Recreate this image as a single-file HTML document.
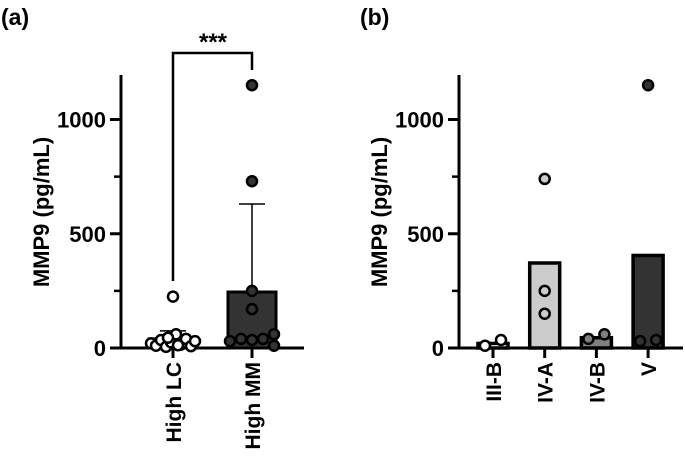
<!DOCTYPE html>
<html><head><meta charset="utf-8">
<style>
html,body{margin:0;padding:0;background:#fff;width:685px;height:460px;overflow:hidden}
svg{display:block;font-family:"Liberation Sans",Arial,sans-serif;font-weight:bold}
</style></head>
<body>
<svg id="chart" width="685" height="460">
<text x="1" y="25" font-size="23">(a)</text>
<text x="360" y="25" font-size="23">(b)</text>
<text transform="translate(49,212) rotate(-90)" text-anchor="middle" font-size="22">MMP9 (pg/mL)</text>
<text transform="translate(387,212) rotate(-90)" text-anchor="middle" font-size="22">MMP9 (pg/mL)</text>
<text x="213" y="50" text-anchor="middle" font-size="24">***</text>
</svg>
<script>
const catsA = ["High LC", "High MM"];
const barsA = [40, 245];
const sdA = [75, 630];
const fillA = ["#ffffff", "#333333"];
const ptsLC = [20, 10, 35, 5, 25, 60, 15, 40, 8, 30, 45, 12, 225];
const ptsMM = [1150, 730, 250, 170, 30, 40, 35, 40, 60, 10];
const catsB = ["III-B", "IV-A", "IV-B", "V"];
const barsB = [20, 372, 45, 405];
const fillB = ["#ffffff", "#cccccc", "#808080", "#333333"];
const ptsB = [[10, 35], [740, 250, 150], [40, 60], [1150, 30, 35]];
const yTicks = [0, 500, 1000];

const svg = document.getElementById('chart');
const NS = 'http://www.w3.org/2000/svg';
function mk(tag, attrs, parent){const e=document.createElementNS(NS,tag);for(const k in attrs)e.setAttribute(k,attrs[k]);(parent||svg).appendChild(e);return e;}
const y = v => 348 - v * 0.2285;
const xA = i => 173 + i * 79;
const xB = i => 493 + i * 51.7;

function axes(x0, x1, label){
  const g = mk('g', {});
  
  
  mk('line',{x1:x0,y1:75,x2:x0,y2:349.5,stroke:'#000','stroke-width':3},g);
  mk('line',{x1:x0-11,y1:348,x2:x1,y2:348,stroke:'#000','stroke-width':3},g);
  for(let v=250; v<=1000; v+=500) mk('line',{x1:x0-7,y1:y(v),x2:x0,y2:y(v),stroke:'#000','stroke-width':2.5},g);
  yTicks.forEach(v=>{
    mk('line',{x1:x0-11,y1:y(v),x2:x0,y2:y(v),stroke:'#000','stroke-width':3},g);
    const t = mk('text',{x:x0-15,y:y(v)+8,'text-anchor':'end','font-size':22},g);
    
    
    t.textContent = v;
  });
}
function dot(cx, v, fill){
  const c = mk('circle',{cx:cx,cy:y(v),r:5,fill:fill,stroke:'#000','stroke-width':2.5});
  
  
}
function xlabel(x, txt){
  const t = mk('text',{transform:`translate(${x+8},362) rotate(-90)`,'text-anchor':'end','font-size':21});
  
  
  t.textContent = txt;
  mk('line',{x1:x,y1:348,x2:x,y2:358,stroke:'#000','stroke-width':3});
}

axes(121, 304, 'a');
const br = mk('polyline',{points:`${xA(0)},281 ${xA(0)},53 ${xA(1)},53 ${xA(1)},70`,fill:'none',stroke:'#000','stroke-width':2.5});


catsA.forEach((c,i)=>{
  const bw = 48, x = xA(i);
  mk('line',{x1:x,y1:y(barsA[i]),x2:x,y2:y(sdA[i]),stroke:'#000','stroke-width':1.5});
  mk('line',{x1:x-13,y1:y(sdA[i]),x2:x+13,y2:y(sdA[i]),stroke:'#000','stroke-width':1.5});
  const b = mk('rect',{x:x-bw/2,y:y(barsA[i]),width:bw,height:348-y(barsA[i]),fill:fillA[i],stroke:'#000','stroke-width':3});
  
  
  xlabel(x, c);
});
const offLC = [-22,-17,-12,-7,-2,3,8,13,18,22,-5,5,0];
ptsLC.forEach((v,j)=>dot(xA(0)+offLC[j], v, '#fff'));
const offMM = [0,0,0,0,-22,-11,0,11,22,22];
ptsMM.forEach((v,j)=>dot(xA(1)+offMM[j], v, '#333'));

axes(459, 683, 'b');
catsB.forEach((c,i)=>{
  const bw = 30, x = xB(i);
  const b = mk('rect',{x:x-bw/2,y:y(barsB[i]),width:bw,height:348-y(barsB[i]),fill:fillB[i],stroke:'#000','stroke-width':3.5});
  
  
  xlabel(x, c);
  const n = ptsB[i].length;
  ptsB[i].forEach((v,j)=>{
    let off = n===2 ? (j===0?-8:8) : 0;
    if(i===3 && j>0) off = j===1?-8:8;
    dot(x+off, v, fillB[i]);
  });
});
</script>
</body></html>
